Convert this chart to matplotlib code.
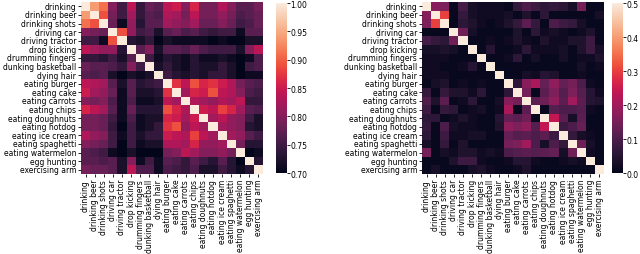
import numpy as np
import matplotlib
matplotlib.use("Agg")
import matplotlib.pyplot as plt
import seaborn as sns

labels = ["drinking", "drinking beer", "drinking shots", "driving car", "driving tractor",
          "drop kicking", "drumming fingers", "dunking basketball", "dying hair", "eating burger",
          "eating cake", "eating carrots", "eating chips", "eating doughnuts", "eating hotdog",
          "eating ice cream", "eating spaghetti", "eating watermelon", "egg hunting", "exercising arm"]

# lower triangles (incl. diagonal) of the symmetric similarity matrices
left_lower = [
    [1.00],
    [0.94, 1.00],
    [0.91, 0.89, 1.00],
    [0.80, 0.79, 0.78, 1.00],
    [0.75, 0.75, 0.71, 0.89, 1.00],
    [0.84, 0.82, 0.81, 0.81, 0.73, 1.00],
    [0.74, 0.74, 0.73, 0.75, 0.72, 0.77, 1.00],
    [0.78, 0.77, 0.77, 0.76, 0.74, 0.80, 0.75, 1.00],
    [0.77, 0.76, 0.77, 0.72, 0.70, 0.72, 0.71, 0.72, 1.00],
    [0.84, 0.83, 0.82, 0.77, 0.72, 0.77, 0.73, 0.74, 0.75, 1.00],
    [0.85, 0.82, 0.81, 0.78, 0.71, 0.77, 0.72, 0.72, 0.73, 0.87, 1.00],
    [0.80, 0.79, 0.80, 0.76, 0.71, 0.76, 0.71, 0.71, 0.72, 0.84, 0.82, 1.00],
    [0.86, 0.84, 0.82, 0.77, 0.71, 0.78, 0.73, 0.73, 0.73, 0.89, 0.86, 0.83, 1.00],
    [0.79, 0.79, 0.78, 0.75, 0.71, 0.76, 0.71, 0.72, 0.72, 0.86, 0.85, 0.82, 0.85, 1.00],
    [0.79, 0.79, 0.78, 0.74, 0.70, 0.75, 0.71, 0.72, 0.74, 0.87, 0.89, 0.81, 0.84, 0.82, 1.00],
    [0.83, 0.81, 0.80, 0.75, 0.71, 0.75, 0.72, 0.74, 0.74, 0.85, 0.84, 0.83, 0.88, 0.84, 0.82, 1.00],
    [0.80, 0.79, 0.78, 0.75, 0.70, 0.75, 0.71, 0.72, 0.72, 0.83, 0.83, 0.82, 0.86, 0.81, 0.81, 0.82, 1.00],
    [0.77, 0.76, 0.75, 0.71, 0.70, 0.72, 0.70, 0.70, 0.70, 0.79, 0.80, 0.84, 0.82, 0.80, 0.80, 0.81, 0.79, 1.00],
    [0.77, 0.77, 0.76, 0.77, 0.72, 0.80, 0.71, 0.75, 0.71, 0.77, 0.76, 0.74, 0.77, 0.75, 0.73, 0.77, 0.73, 0.70, 1.00],
    [0.79, 0.78, 0.78, 0.77, 0.72, 0.84, 0.76, 0.76, 0.71, 0.76, 0.75, 0.74, 0.76, 0.72, 0.72, 0.75, 0.73, 0.71, 0.73, 1.00],
]

right_lower = [
    [0.50],
    [0.17, 0.50],
    [0.16, 0.30, 0.50],
    [0.01, 0.01, 0.01, 0.50],
    [0.09, 0.07, 0.06, 0.14, 0.50],
    [0.03, 0.03, 0.04, 0.03, 0.01, 0.50],
    [0.02, 0.02, 0.02, 0.01, 0.01, 0.01, 0.50],
    [0.02, 0.02, 0.01, 0.01, 0.02, 0.05, 0.01, 0.50],
    [0.02, 0.02, 0.02, 0.01, 0.01, 0.01, 0.01, 0.01, 0.50],
    [0.01, 0.03, 0.04, 0.01, 0.02, 0.01, 0.02, 0.01, 0.01, 0.50],
    [0.07, 0.01, 0.07, 0.04, 0.04, 0.02, 0.06, 0.01, 0.01, 0.06, 0.50],
    [0.10, 0.04, 0.12, 0.01, 0.02, 0.06, 0.01, 0.01, 0.03, 0.17, 0.15, 0.50],
    [0.08, 0.01, 0.07, 0.06, 0.01, 0.02, 0.03, 0.01, 0.02, 0.21, 0.01, 0.12, 0.50],
    [0.06, 0.06, 0.01, 0.02, 0.04, 0.02, 0.01, 0.01, 0.05, 0.13, 0.12, 0.14, 0.01, 0.50],
    [0.07, 0.01, 0.10, 0.03, 0.02, 0.02, 0.01, 0.01, 0.04, 0.18, 0.16, 0.18, 0.11, 0.24, 0.50],
    [0.06, 0.01, 0.08, 0.02, 0.02, 0.03, 0.03, 0.01, 0.01, 0.13, 0.11, 0.12, 0.10, 0.12, 0.08, 0.50],
    [0.03, 0.01, 0.07, 0.01, 0.04, 0.01, 0.01, 0.01, 0.01, 0.15, 0.16, 0.20, 0.10, 0.03, 0.10, 0.07, 0.50],
    [0.15, 0.01, 0.03, 0.02, 0.04, 0.04, 0.02, 0.03, 0.02, 0.10, 0.11, 0.12, 0.11, 0.12, 0.13, 0.03, 0.14, 0.50],
    [0.01, 0.01, 0.01, 0.04, 0.08, 0.08, 0.02, 0.01, 0.01, 0.02, 0.05, 0.05, 0.02, 0.01, 0.01, 0.02, 0.03, 0.02, 0.50],
    [0.01, 0.03, 0.01, 0.01, 0.01, 0.03, 0.04, 0.02, 0.01, 0.01, 0.02, 0.04, 0.01, 0.01, 0.01, 0.01, 0.01, 0.01, 0.01, 0.50],
]


def full_matrix(lower):
    n = len(lower)
    m = np.zeros((n, n))
    for i, row in enumerate(lower):
        for j, v in enumerate(row):
            m[i, j] = v
            m[j, i] = v
    return m


left_m = full_matrix(left_lower)
right_m = full_matrix(right_lower)

fs = 5.5
fig = plt.figure(figsize=(6.4, 2.55), dpi=100)
ax1 = fig.add_axes([0.1266, 0.3137, 0.2844, 0.6745])
cax1 = fig.add_axes([0.4313, 0.3176, 0.0164, 0.6667])
ax2 = fig.add_axes([0.6594, 0.3137, 0.2844, 0.6745])
cax2 = fig.add_axes([0.9560, 0.3176, 0.0172, 0.6667])

sns.heatmap(left_m, ax=ax1, cbar_ax=cax1, cmap="rocket", vmin=0.7, vmax=1.0,
            xticklabels=labels, yticklabels=labels)
sns.heatmap(right_m, ax=ax2, cbar_ax=cax2, cmap="rocket", vmin=0.0, vmax=0.5,
            xticklabels=labels, yticklabels=labels)

for ax in (ax1, ax2):
    ax.tick_params(axis="both", labelsize=fs, length=2.5, width=0.6, pad=1)
    ax.set_xticklabels(labels, rotation=90, fontsize=fs)
    ax.set_yticklabels(labels, rotation=0, fontsize=fs)

cax1.set_yticks([0.70, 0.75, 0.80, 0.85, 0.90, 0.95, 1.00])
cax1.set_yticklabels(["0.70", "0.75", "0.80", "0.85", "0.90", "0.95", "1.00"])
cax2.set_yticks([0.0, 0.1, 0.2, 0.3, 0.4, 0.5])
cax2.set_yticklabels(["0.0", "0.1", "0.2", "0.3", "0.4", "0.5"])
for cax in (cax1, cax2):
    cax.tick_params(labelsize=fs, length=2, width=0.6, pad=0.8)

fig.savefig("out.png", dpi=100)
